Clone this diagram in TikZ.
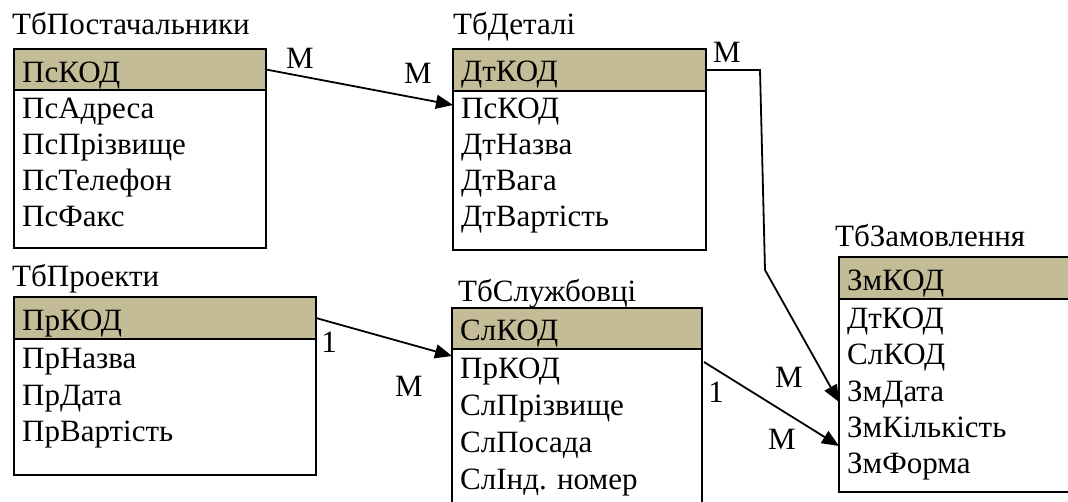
\documentclass[tikz,border=0pt]{standalone}
\usepackage{fontspec}
\setmainfont{Liberation Serif}
\usetikzlibrary{arrows.meta,calc}
\definecolor{hdrfill}{HTML}{C4BC96}
\begin{document}
\begin{tikzpicture}[x=1pt,y=-1pt,
  tbl/.style={draw=black, line width=1.8pt, anchor=north west, inner sep=0pt, outer sep=0pt},
  hdr/.style={tbl, fill=hdrfill},
  body/.style={tbl, fill=white},
  fld/.style={anchor=base west, inner sep=0pt, font=\fontsize{31}{36}\selectfont},
  lbl/.style={inner sep=0pt, font=\fontsize{31}{36}\selectfont},
  rel/.style={line width=1.8pt, -{Triangle[length=17pt,width=14pt]}}
]
\useasboundingbox (0,0) rectangle (1068,502);
\clip (0,0) rectangle (1068,502);

% Table boxes
\node[body, minimum width=252pt, minimum height=158pt] (psb) at (14,90) {};
\node[hdr,  minimum width=252pt, minimum height=41pt]  (psh) at (14,49) {};
\node[body, minimum width=253pt, minimum height=159pt] (dtb) at (453,91) {};
\node[hdr,  minimum width=253pt, minimum height=42pt]  (dth) at (453,49) {};
\node[body, minimum width=302pt, minimum height=136pt] (prb) at (14,339) {};
\node[hdr,  minimum width=302pt, minimum height=42pt]  (prh) at (14,297) {};
\node[body, minimum width=250pt, minimum height=175pt] (slb) at (452,349) {};
\node[hdr,  minimum width=250pt, minimum height=41pt]  (slh) at (452,308) {};
\node[body, minimum width=245pt, minimum height=193pt] (zmb) at (839,299) {};
\node[hdr,  minimum width=245pt, minimum height=42pt]  (zmh) at (839,257) {};

% Titles
\node[fld] (tps) at (12,35) {ТбПостачальники};
\node[fld] (tdt) at (453,35) {ТбДеталі};
\node[fld] (tpr) at (12,287) {ТбПроекти};
\node[fld] (tsl) at (458,302) {ТбСлужбовці};
\node[fld] (tzm) at (835,247) {ТбЗамовлення};

% Постачальники
\node[fld] (ps0) at (22,83) {ПсКОД};
\node[fld] (ps1) at (22,119) {ПсАдреса};
\node[fld] (ps2) at (22,155) {ПсПрізвище};
\node[fld] (ps3) at (22,191) {ПсТелефон};
\node[fld] (ps4) at (22,227) {ПсФакс};

% Деталі
\node[fld] (dt0) at (461,82) {ДтКОД};
\node[fld] (dt1) at (461,119) {ПсКОД};
\node[fld] (dt2) at (461,155) {ДтНазва};
\node[fld] (dt3) at (461,191) {ДтВага};
\node[fld] (dt4) at (461,227) {ДтВартість};

% Проекти
\node[fld] (pr0) at (22,331) {ПрКОД};
\node[fld] (pr1) at (22,369) {ПрНазва};
\node[fld] (pr2) at (22,405) {ПрДата};
\node[fld] (pr3) at (22,441) {ПрВартість};

% Службовці
\node[fld] (sl0) at (460,341) {СлКОД};
\node[fld] (sl1) at (460,378) {ПрКОД};
\node[fld] (sl2) at (460,415) {СлПрізвище};
\node[fld] (sl3) at (460,452) {СлПосада};
\node[fld] (sl4) at (460,489) {СлІнд. номер};

% Замовлення
\node[fld] (zm0) at (847,291) {ЗмКОД};
\node[fld] (zm1) at (847,329) {ДтКОД};
\node[fld] (zm2) at (847,365) {СлКОД};
\node[fld] (zm3) at (847,401) {ЗмДата};
\node[fld] (zm4) at (847,437) {ЗмКількість};
\node[fld] (zm5) at (847,473) {ЗмФорма};

% Connectors
\coordinate (b1) at (760,70);
\coordinate (b2) at (765,270);
\draw[rel] (psh.east) -- ($(dtb.north west)+(0,14)$);
\draw[rel] (dth.east) -- (b1) -- (b2) -- ($(zmb.north west)+(0,103)$);
\draw[rel] (prh.east) -- ($(slb.north west)+(0,7)$);
\draw[rel] ($(slb.north east)+(2,13)$) -- ($(zmb.north west)+(0,147)$);

% Cardinality labels
\node[lbl] (m1) at (300,58) {M};
\node[lbl] (m2) at (418,73) {M};
\node[lbl] (m3) at (727,52) {M};
\node[lbl] (o1) at (329,342) {1};
\node[lbl] (m4) at (409,386) {M};
\node[lbl] (o2) at (716,392) {1};
\node[lbl] (m5) at (789,377) {M};
\node[lbl] (m6) at (782,439) {M};
\end{tikzpicture}
\end{document}
